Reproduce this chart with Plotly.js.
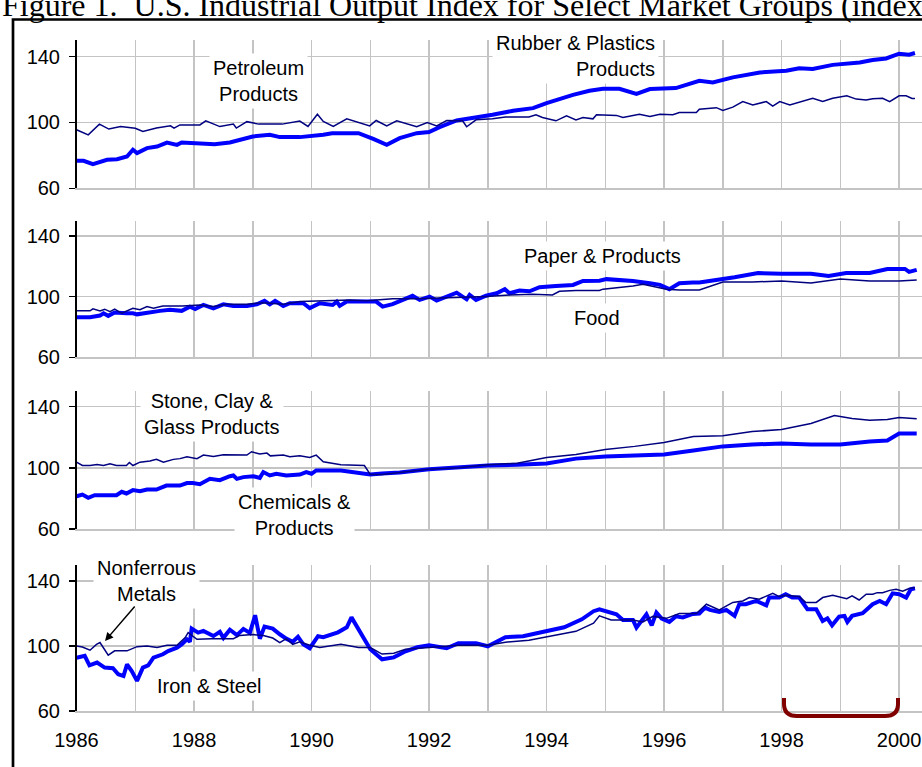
<!DOCTYPE html>
<html><head><meta charset="utf-8">
<script src="https://cdn.plot.ly/plotly-3.0.1.min.js"></script>
<style>html,body{margin:0;padding:0;background:#fff;overflow:hidden}</style>
</head><body><div id="chart" style="width:922px;height:767px"></div>
<script>
// ---------------- DATA ----------------
const yearTicks = [1986,1987,1988,1989,1990,1991,1992,1993,1994,1995,1996,1997,1998,1999,2000];
const yearLabels = ['1986','','1988','','1990','','1992','','1994','','1996','','1998','','2000'];
const yTicks = [60,100,140];

// Panel 1
const rubberX = [1986.0,1986.12,1986.28,1986.4,1986.52,1986.69,1986.86,1986.96,1987.03,1987.2,1987.37,1987.54,1987.71,1987.79,1988.1,1988.35,1988.61,1988.78,1989.0,1989.29,1989.46,1989.8,1990.08,1990.2,1990.35,1990.6,1990.8,1991.05,1991.28,1991.5,1991.79,1992.0,1992.18,1992.47,1992.8,1993.08,1993.43,1993.77,1994.0,1994.23,1994.45,1994.73,1994.96,1995.24,1995.53,1995.76,1996.04,1996.2,1996.6,1996.83,1997.17,1997.63,1998.08,1998.3,1998.53,1998.87,1999.33,1999.55,1999.78,2000.0,2000.17,2000.27];
const rubberY = [76.7,76.7,74.7,76.3,77.3,77.7,79.3,83.4,81.4,84.4,85.4,87.8,86.4,87.8,87.3,86.8,87.8,89.5,91.5,92.5,91.1,91.1,91.9,92.5,93.5,93.5,93.5,90.0,86.4,90.5,93.5,94.2,97.2,101.2,103.0,104.7,107.1,108.7,111.8,114.4,116.8,119.3,120.5,120.5,117.4,120.3,120.5,120.9,125.3,124.3,127.4,130.4,131.4,133.0,132.5,135.0,136.5,138.0,138.9,141.8,141.2,142.2];
const petroX = [1986.0,1986.2,1986.39,1986.55,1986.75,1987.0,1987.13,1987.36,1987.6,1987.66,1987.76,1988.1,1988.2,1988.44,1988.67,1988.72,1988.9,1989.1,1989.5,1989.8,1989.94,1990.1,1990.2,1990.37,1990.6,1990.99,1991.1,1991.28,1991.45,1991.79,1991.97,1992.13,1992.3,1992.57,1992.64,1992.8,1993.08,1993.3,1993.7,1993.82,1993.93,1994.16,1994.34,1994.5,1994.62,1994.79,1994.85,1995.19,1995.3,1995.58,1995.76,1995.93,1996.15,1996.26,1996.55,1996.6,1996.89,1997.0,1997.17,1997.34,1997.51,1997.74,1997.85,1997.97,1998.14,1998.36,1998.53,1998.7,1998.87,1999.11,1999.27,1999.44,1999.55,1999.72,1999.84,2000.0,2000.12,2000.22,2000.27];
const petroY = [95.6,92.5,99.0,96.0,97.5,96.5,94.5,96.6,98.0,96.6,98.5,98.5,101.0,97.5,99.0,96.6,100.5,99.0,99.0,100.9,97.6,105.0,100.6,97.6,102.2,97.9,101.2,97.9,101.0,97.4,100.0,97.9,101.2,101.0,97.4,101.6,102.2,103.3,103.3,104.7,103.0,101.0,104.0,101.6,103.0,102.2,104.7,104.3,103.0,105.0,103.6,105.0,104.7,106.0,106.0,108.0,109.0,107.3,109.3,112.7,110.7,112.7,110.0,112.7,110.7,112.7,114.7,112.7,114.7,116.2,114.2,113.7,114.4,114.7,112.7,116.2,116.2,114.6,114.6];

// Panel 2
const paperX = [1986.0,1986.23,1986.4,1986.46,1986.54,1986.65,1986.85,1986.96,1987.03,1987.2,1987.42,1987.59,1987.79,1987.93,1988.02,1988.16,1988.33,1988.5,1988.67,1988.9,1989.07,1989.2,1989.29,1989.38,1989.52,1989.63,1989.86,1989.97,1990.14,1990.36,1990.43,1990.48,1990.6,1991.1,1991.21,1991.38,1991.72,1991.84,1992.01,1992.13,1992.3,1992.47,1992.64,1992.69,1992.8,1992.97,1993.15,1993.29,1993.37,1993.54,1993.71,1993.88,1994.16,1994.45,1994.62,1994.9,1995.02,1995.24,1995.47,1995.76,1995.93,1996.09,1996.26,1996.49,1996.6,1997.2,1997.6,1998.0,1998.5,1998.8,1999.1,1999.5,1999.8,2000.1,2000.17,2000.3];
const paperY = [86.4,86.4,87.5,89.0,87.3,89.5,89.0,89.0,88.3,89.5,90.6,91.3,90.6,93.4,91.8,94.5,92.3,94.9,93.8,93.8,94.9,97.2,94.9,97.2,93.8,95.6,95.6,92.4,95.6,94.5,96.7,93.9,96.7,96.7,93.4,95.0,100.5,97.8,100.0,97.4,100.0,102.6,98.2,101.1,97.8,100.6,102.2,104.9,102.2,104.0,103.5,106.2,107.0,107.7,110.3,110.5,111.5,111.0,110.3,108.8,107.7,104.9,108.8,109.3,109.3,112.8,115.5,115.0,115.0,113.6,115.6,115.5,118.2,118.2,116.3,117.6];
const foodX = [1986.0,1986.23,1986.28,1986.4,1986.48,1986.57,1986.65,1986.77,1986.96,1987.08,1987.2,1987.31,1987.47,1987.8,1988.1,1988.33,1988.55,1988.9,1989.17,1989.52,1989.8,1990.14,1990.65,1990.94,1991.38,1991.79,1992.07,1992.64,1992.97,1993.37,1993.76,1994.1,1994.22,1994.5,1994.9,1994.96,1995.24,1995.47,1995.64,1995.81,1996.04,1996.26,1996.6,1997.0,1997.5,1998.0,1998.5,1999.0,1999.5,2000.0,2000.3];
const foodY = [90.6,90.6,91.9,90.6,91.7,90.1,91.7,89.0,92.3,91.3,93.4,92.3,93.8,93.8,94.5,93.4,94.9,94.9,96.0,94.9,96.7,97.2,97.8,97.2,98.5,98.5,98.9,99.4,100.0,101.1,101.6,101.1,103.5,104.0,104.0,104.9,106.0,107.0,108.1,106.6,104.9,104.4,104.4,109.6,109.6,110.3,109.0,111.6,110.3,110.3,111.0];

// Panel 3
const stoneX = [1986.0,1986.1,1986.23,1986.35,1986.46,1986.57,1986.68,1986.85,1986.9,1986.96,1987.08,1987.25,1987.36,1987.48,1987.65,1987.76,1987.88,1988.05,1988.16,1988.33,1988.5,1988.67,1988.9,1988.98,1989.12,1989.24,1989.3,1989.52,1989.63,1989.8,1989.97,1990.08,1990.2,1990.5,1990.9,1991.0,1991.2,1991.5,1992.0,1992.5,1993.0,1993.5,1994.0,1994.5,1995.0,1995.5,1996.0,1996.5,1997.0,1997.5,1998.0,1998.5,1998.9,1999.2,1999.5,1999.8,2000.0,2000.3];
const stoneY = [103.7,101.5,101.5,102.2,101.5,102.6,101.5,101.5,103.5,101.5,103.7,104.4,105.5,103.7,105.5,106.0,107.2,106.0,108.3,107.4,108.5,108.3,108.3,110.5,109.0,109.6,107.8,108.3,107.2,107.8,106.7,108.3,104.0,102.0,101.5,95.6,95.6,97.0,99.0,100.0,102.0,103.0,106.7,108.7,112.0,114.0,116.5,120.5,121.0,123.7,125.0,129.0,134.2,132.2,131.0,131.5,132.9,132.0];
const chemX = [1986.0,1986.1,1986.2,1986.31,1986.68,1986.77,1986.85,1986.96,1987.08,1987.2,1987.36,1987.53,1987.76,1987.88,1987.98,1988.1,1988.27,1988.44,1988.61,1988.67,1988.73,1988.84,1989.01,1989.12,1989.18,1989.29,1989.4,1989.57,1989.8,1989.91,1990.0,1990.08,1990.5,1991.0,1991.2,1991.5,1992.0,1992.5,1993.0,1993.5,1994.0,1994.5,1995.0,1995.5,1996.0,1996.5,1997.0,1997.5,1998.0,1998.5,1999.0,1999.5,1999.8,2000.0,2000.3];
const chemY = [81.4,82.5,80.4,82.1,82.1,84.3,83.2,85.4,84.7,85.8,85.8,88.4,88.4,90.0,90.0,89.3,92.8,91.9,94.5,95.0,92.8,93.9,94.5,93.4,97.2,95.0,96.1,95.0,95.6,97.2,96.1,98.3,98.2,95.6,96.3,97.0,99.0,100.2,101.5,102.0,102.8,106.0,107.4,108.0,108.7,111.3,114.0,115.2,115.9,115.2,115.2,117.2,117.8,122.4,122.4];

// Panel 4
const ironX = [1986.0,1986.14,1986.22,1986.35,1986.48,1986.62,1986.71,1986.8,1986.86,1986.94,1987.03,1987.13,1987.22,1987.31,1987.47,1987.56,1987.71,1987.79,1987.88,1987.93,1987.96,1988.07,1988.16,1988.33,1988.44,1988.5,1988.61,1988.73,1988.84,1988.95,1989.04,1989.12,1989.2,1989.34,1989.46,1989.57,1989.68,1989.77,1989.86,1989.97,1990.11,1990.2,1990.45,1990.6,1990.68,1990.8,1991.0,1991.2,1991.4,1991.6,1991.8,1992.0,1992.3,1992.5,1992.8,1993.0,1993.3,1993.6,1994.0,1994.3,1994.6,1994.8,1994.9,1995.19,1995.3,1995.47,1995.53,1995.7,1995.79,1995.87,1995.96,1996.09,1996.2,1996.32,1996.49,1996.6,1996.7,1996.78,1996.94,1997.06,1997.2,1997.28,1997.39,1997.57,1997.74,1997.79,1997.96,1998.07,1998.18,1998.3,1998.44,1998.59,1998.7,1998.78,1998.86,1998.98,1999.07,1999.12,1999.2,1999.38,1999.55,1999.67,1999.78,1999.89,2000.0,2000.12,2000.2,2000.27];
const ironY = [92.8,93.9,88.1,89.8,86.7,86.3,82.6,81.5,88.7,84.6,78.5,86.7,88.1,92.8,94.9,96.9,99.0,101.0,104.1,102.6,110.7,108.2,109.3,106.1,108.7,105.0,110.0,106.7,110.5,108.0,118.9,104.5,111.9,110.7,107.2,104.5,102.6,105.7,101.0,98.6,106.0,105.4,108.4,111.5,117.6,110.0,98.0,91.8,93.0,96.7,99.2,100.4,98.6,101.7,101.7,99.8,105.4,106.0,109.0,111.5,116.4,121.4,122.6,119.5,116.0,116.0,111.3,119.5,112.7,120.5,116.9,114.8,118.2,117.6,119.7,120.0,123.6,122.2,120.9,122.2,118.5,125.7,125.7,127.7,125.0,129.8,129.8,131.8,129.8,129.8,122.6,122.6,115.4,117.0,112.7,118.1,118.5,114.8,118.5,120.1,125.7,127.7,125.7,132.4,131.8,129.8,134.9,135.5];
const nonferX = [1986.0,1986.1,1986.23,1986.34,1986.4,1986.54,1986.65,1986.86,1987.03,1987.2,1987.37,1987.54,1987.71,1987.85,1987.9,1988.05,1988.3,1988.67,1988.78,1989.0,1989.18,1989.34,1989.46,1989.57,1989.68,1989.8,1989.97,1990.14,1990.5,1990.8,1991.0,1991.2,1991.4,1991.6,1992.0,1992.5,1993.0,1993.3,1993.7,1994.0,1994.5,1994.8,1994.9,1995.1,1995.47,1995.64,1995.81,1996.04,1996.26,1996.55,1996.72,1996.94,1997.17,1997.34,1997.45,1997.62,1997.85,1997.96,1998.07,1998.3,1998.41,1998.59,1998.7,1998.87,1999.11,1999.2,1999.32,1999.44,1999.55,1999.63,1999.72,1999.84,1999.95,2000.06,2000.17,2000.27];
const nonferY = [100.0,99.4,97.4,101.0,102.1,94.3,97.0,97.0,99.6,100.0,99.0,100.4,100.4,105.2,108.2,104.1,104.5,104.5,106.5,107.0,106.5,104.9,102.0,104.5,101.0,102.6,100.4,99.0,101.0,99.0,99.0,95.0,95.5,98.0,99.0,100.4,100.4,102.3,103.5,105.4,109.0,114.0,118.5,116.0,116.0,114.8,118.2,117.0,120.0,120.0,125.7,122.2,126.8,127.7,129.8,128.8,132.4,130.4,131.2,130.4,126.8,126.8,129.8,131.2,129.1,130.8,128.3,131.8,131.8,132.8,132.8,134.2,134.9,133.7,135.3,135.9];

// ---------------- LAYOUT ----------------
const W = 922, H = 767;
const FONT = 'Liberation Sans, Arial, sans-serif';
const GRID = '#c4c4c4';
const px = v => v / W;
const py = v => 1 - v / H;

const thick = {color:'#0000ff', width:4};
const thin = {color:'#000080', width:1.5};
const traces = [
  {x: rubberX, y: rubberY, xaxis:'x', yaxis:'y', line: thick},
  {x: petroX, y: petroY, xaxis:'x', yaxis:'y', line: thin},
  {x: paperX, y: paperY, xaxis:'x2', yaxis:'y2', line: thick},
  {x: foodX, y: foodY, xaxis:'x2', yaxis:'y2', line: thin},
  {x: chemX, y: chemY, xaxis:'x3', yaxis:'y3', line: thick},
  {x: stoneX, y: stoneY, xaxis:'x3', yaxis:'y3', line: thin},
  {x: ironX, y: ironY, xaxis:'x4', yaxis:'y4', line: thick},
  {x: nonferX, y: nonferY, xaxis:'x4', yaxis:'y4', line: thin}
].map(t => Object.assign({type:'scatter', mode:'lines', hoverinfo:'skip', showlegend:false}, t));

function xa(anchor, labels) {
  return {domain:[76.5/W, 1], range:[1986, 2000.39], anchor: anchor,
    tickmode:'array', tickvals: yearTicks, ticktext: yearLabels, showticklabels: labels,
    ticks:'', showgrid:true, gridcolor:GRID, gridwidth:1.5, zeroline:false,
    showline:true, linecolor:GRID, linewidth:1.5,
    tickfont:{family:FONT, size:20, color:'#000'}, ticklabelstandoff: 10, fixedrange:true};
}
function ya(anchor, top, bottom) {
  return {domain:[py(bottom), py(top)], range:[60,150], anchor: anchor,
    tickmode:'array', tickvals: yTicks, ticks:'outside', ticklen:6, tickwidth:1.5, tickcolor:'#000',
    showline:true, linecolor:'#000', linewidth:1.5, showgrid:true, gridcolor:GRID, gridwidth:1.5,
    zeroline:false, tickfont:{family:FONT, size:20, color:'#000'}, ticklabelstandoff: 5, fixedrange:true};
}

function label(text, x, y, opts) {
  return Object.assign({xref:'paper', yref:'paper', x: px(x), y: py(y), text: text, showarrow:false,
    xanchor:'center', yanchor:'middle', align:'center', bgcolor:'#ffffff', borderpad:3,
    font:{family:FONT, size:20, color:'#000'}}, opts || {});
}

const annotations = [
  label('Figure 1.  U.S. Industrial Output Index for Select Market Groups (index, 1992=100)', 1, 4.5,
    {xanchor:'left', bgcolor:'rgba(0,0,0,0)', borderpad:0, font:{family:'Liberation Serif, Times New Roman, serif', size:32, color:'#000'}}),
  label('Rubber &amp; Plastics<br>Products', 659, 56, {xanchor:'right', align:'right'}),
  label('Petroleum<br>Products', 258, 81),
  label('Paper &amp; Products', 602, 256),
  label('Food', 597, 318),
  label('Stone, Clay &amp;<br>Glass Products', 212, 414),
  label('Chemicals &amp;<br>Products', 294, 515),
  label('Nonferrous<br>Metals', 146, 581),
  label('Iron &amp; Steel', 209, 686),
  {xref:'paper', yref:'paper', x: px(105), y: py(641), ax: 31, ay: -36, text:'', showarrow:true,
   arrowhead:2, arrowsize:1.1, arrowwidth:1.5, arrowcolor:'#000'}
];

// bracket (decorative) in pixel points
const br = [[784,698],[784,704],[797,716],[885,716],[898,704],[898,698]];
const bracketPath = `M ${px(br[0][0])},${py(br[0][1])} L ${px(br[1][0])},${py(br[1][1])} ` +
  `Q ${px(784)},${py(716)} ${px(br[2][0])},${py(br[2][1])} L ${px(br[3][0])},${py(br[3][1])} ` +
  `Q ${px(898)},${py(716)} ${px(br[4][0])},${py(br[4][1])} L ${px(br[5][0])},${py(br[5][1])}`;

const shapes = [
  {type:'rect', xref:'paper', yref:'paper', x0: px(13), x1: 1.05, y0: -0.05, y1: py(19.5),
   line:{color:'#000', width:2.7}, fillcolor:'rgba(0,0,0,0)', layer:'above'},
  {type:'path', xref:'paper', yref:'paper', path: bracketPath, line:{color:'#800000', width:4}, layer:'above'}
];

const layout = {
  width: W, height: H, margin:{l:0, r:0, t:0, b:0},
  paper_bgcolor:'#fff', plot_bgcolor:'#fff', showlegend:false,
  xaxis: xa('y', false), xaxis2: xa('y2', false), xaxis3: xa('y3', false), xaxis4: xa('y4', true),
  yaxis: ya('x', 40.2, 188.3), yaxis2: ya('x2', 220.7, 357.3), yaxis3: ya('x3', 391.3, 529), yaxis4: ya('x4', 564.7, 711),
  annotations: annotations, shapes: shapes
};

Plotly.newPlot('chart', traces, layout, {displayModeBar:false, staticPlot:true});
</script></body></html>
